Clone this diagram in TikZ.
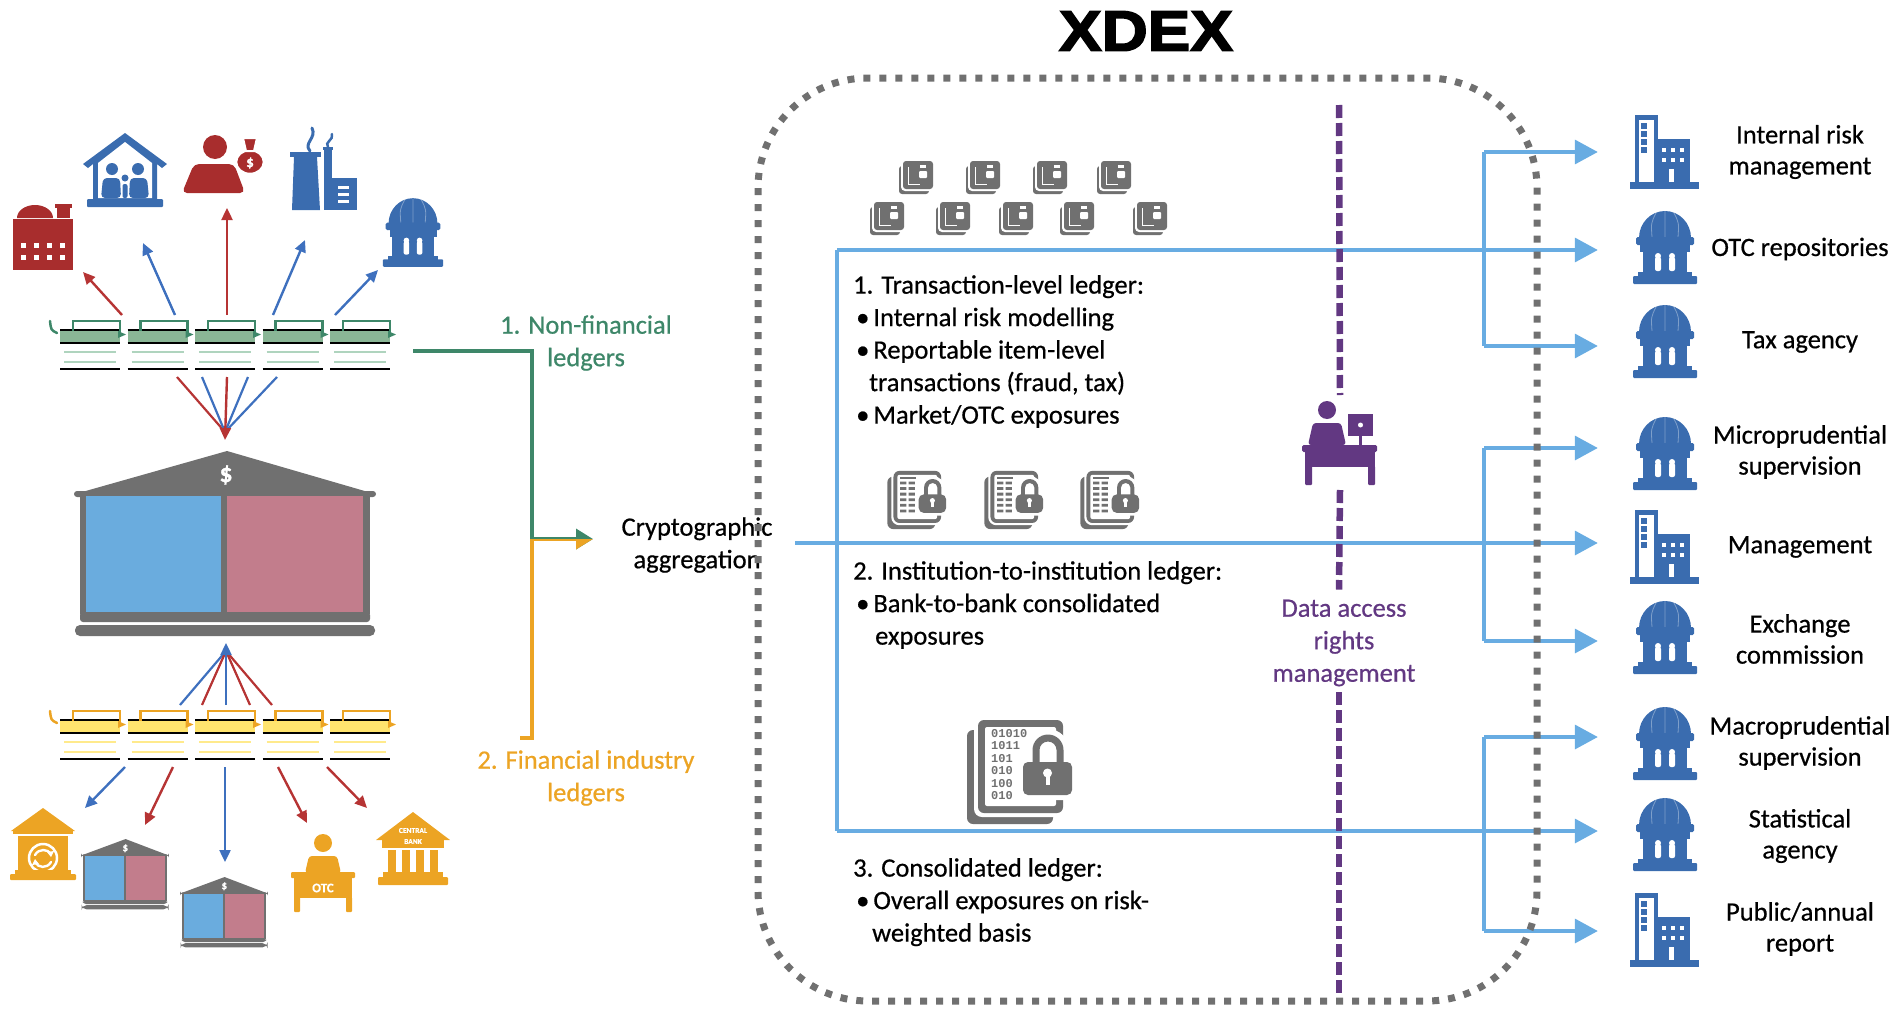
\documentclass[tikz,border=0pt]{standalone}
\usepackage{fontspec}
\setmainfont{Carlito}[FakeBold=0.6]
\newfontfamily\titlefont{Liberation Sans Bold}[FakeStretch=1.12,FakeBold=3]
\newfontfamily\binfont{Liberation Mono}
\usetikzlibrary{arrows.meta}

\definecolor{iconred}{RGB}{168,45,45}
\definecolor{iconblue}{RGB}{58,108,175}
\definecolor{arrowred}{RGB}{182,52,52}
\definecolor{arrowblue}{RGB}{62,112,190}
\definecolor{nfgreen}{RGB}{62,135,105}
\definecolor{nffill}{RGB}{138,182,150}
\definecolor{nfpale}{RGB}{175,212,190}
\definecolor{figold}{RGB}{236,164,36}
\definecolor{fifill}{RGB}{255,228,110}
\definecolor{fipale}{RGB}{255,234,140}
\definecolor{bankgray}{RGB}{112,112,112}
\definecolor{bankblue}{RGB}{106,172,222}
\definecolor{bankpink}{RGB}{194,125,140}
\definecolor{flowblue}{RGB}{104,172,226}
\definecolor{rightsviolet}{RGB}{98,56,130}
\definecolor{boxgray}{RGB}{112,112,112}

\tikzset{
  body/.style={font=\fontsize{26.5}{32.5}\selectfont,inner sep=0pt,align=left,anchor=north west},
  lbl/.style={font=\fontsize{26.5}{32.5}\selectfont,inner sep=0pt,align=center},
  dest/.style={font=\fontsize{26.5}{31}\selectfont,inner sep=0pt,align=center},
  slot/.style={inner sep=0pt,minimum width=#1,minimum height=#1},
  fan/.style={line width=2.4,-{Triangle[length=12pt,width=11pt]}},
  fanline/.style={line width=2.2},
  flow/.style={draw=flowblue,line width=3.5},
  flowarrow/.style={flow,-{Triangle[length=23pt,width=24pt]},shorten >=32pt},
  feed/.style={line width=3.5,-{Triangle[length=17pt,width=20pt]}},
  xdexbox/.style={draw=boxgray,line width=7,dash pattern=on 7 off 9,rounded corners=110},
  rightsline/.style={draw=rightsviolet,line width=6.5,dash pattern=on 13 off 5},
  % ---------- icons ----------
  domebld/.pic={
    \fill[iconblue] (-26,-9) arc[start angle=180,end angle=360,x radius=26,y radius=27] -- cycle;
    \draw[white,opacity=.35,line width=.8] (-9,-34) .. controls (-14,-24) .. (-13,-10)
         (9,-34) .. controls (14,-24) .. (13,-10) (0,-36) -- (0,-10);
    \fill[iconblue,rounded corners=1.5] (-29,-10) rectangle (29,-2);
    \fill[iconblue] (-25,-2) rectangle (25,5);
    \fill[iconblue] (-22,5) rectangle (22,26);
    \fill[white,rounded corners=2] (-10,10) rectangle (-4,24) (4,10) rectangle (10,24);
    \fill[white] (-7,9) circle[radius=3] (7,9) circle[radius=3];
    \fill[iconblue] (-27,25) rectangle (27,30);
    \fill[iconblue,rounded corners=1] (-32,29) rectangle (32,37);
  },
  officebld/.pic={
    \fill[iconblue] (-30,-37) rectangle (-7,31);
    \fill[white] (-26,-32) rectangle (-11,31);
    \foreach \v in {-29,-21,-13,-5} \fill[iconblue] (-24,\v) rectangle (-18,\v+6);
    \fill[iconblue] (-10,-13) rectangle (25,31);
    \foreach \u in {-3,6,15} \foreach \v in {-4,6} \fill[white] (\u,\v) rectangle (\u+4,\v+4);
    \fill[white] (4,17) rectangle (9,30);
    \fill[iconblue] (-35,30) rectangle (34,37);
  },
  bankicon/.pic={
    \fill[bankgray] (-150,-49) -- (2,-92) -- (150,-49) -- cycle;
    \fill[bankgray,rounded corners=3] (-151,-52) rectangle (151,-46);
    \fill[bankgray] (-145,-47) rectangle (145,71);
    \fill[bankblue] (-139,-47) rectangle (-4,69);
    \fill[bankpink] (2,-47) rectangle (138,69);
    \fill[bankgray,rounded corners=3] (-145,69) rectangle (145,79);
    \fill[bankgray,rounded corners=5] (-150,82) rectangle (150,93);
    \node[text=white,font=#1,inner sep=0] at (1,-68) {\$};
  },
  coinbank/.pic={
    \fill[figold] (-32,-13) -- (0,-36) -- (32,-13) -- cycle;
    \fill[figold] (-30,-14) rectangle (30,-10);
    \fill[figold] (-25,-8) rectangle (25,27);
    \draw[white,line width=2.5] (0,14) circle[radius=14];
    \draw[white,line width=2.4,line cap=round]
      (-8,11) .. controls (-4,4) and (5,5) .. (8,10)
      (8,18) .. controls (4,25) and (-5,24) .. (-8,18);
    \fill[white] (8,13) -- (4,8) -- (11,7) -- cycle (-8,15) -- (-4,20) -- (-11,21) -- cycle;
    \fill[figold] (-28,26) rectangle (28,30);
    \fill[figold,rounded corners=1] (-33,30) rectangle (33,36);
  },
  otcdesk/.pic={
    \fill[figold] (0,-30) circle[radius=9];
    \fill[figold,rounded corners=3] (-18,0) -- (-14,-17) -- (14,-17) -- (18,0) -- cycle;
    \fill[figold,rounded corners=1] (-32,-1) rectangle (32,5);
    \fill[figold] (-29,5) rectangle (29,25);
    \node[text=white,font=\bfseries\fontsize{13}{13}\selectfont,inner sep=0] at (0,15) {OTC};
    \fill[figold,rounded corners=1] (-29,24) rectangle (-23,39) (23,24) rectangle (29,39);
  },
  centralbank/.pic={
    \fill[figold] (-37,-8) -- (0,-36) -- (37,-8) -- cycle;
    \fill[figold] (-31,-8) rectangle (31,0);
    \node[text=white,font=\bfseries\fontsize{7.5}{11}\selectfont,inner sep=0,align=center] at (0,-12) {CENTRAL\\BANK};
    \foreach \u in {-21,-7,7,21} \fill[figold] (\u-4,2) rectangle (\u+4,25);
    \fill[figold] (-30,24) rectangle (30,29);
    \fill[figold,rounded corners=1] (-35,29) rectangle (35,37);
  },
  factory/.pic={
    \fill[iconred] (-26,-19) arc[start angle=180,end angle=360,x radius=18,y radius=13] -- cycle;
    \fill[iconred] (14,-31) rectangle (27,-19);
    \fill[iconred] (12,-33) rectangle (29,-29);
    \fill[iconred] (-30,-18) rectangle (30,33);
    \foreach \u in {-20,-7,6,19} \foreach \v in {8,20}
      \fill[white] (\u-2.5,\v-2.5) rectangle (\u+2.5,\v+2.5);
  },
  famhouse/.pic={
    \fill[iconblue] (-42,-6) -- (0,-37) -- (42,-6) -- (37,-2) -- (32,-6) -- (32,30)
         -- (-32,30) -- (-32,-6) -- (-37,-2) -- cycle;
    \fill[white] (-27,-7) -- (0,-28) -- (27,-7) -- (27,28) -- (-27,28) -- cycle;
    \fill[iconblue] (-13,-1) circle[radius=6] (13,-1) circle[radius=6] (0,8) circle[radius=3.5];
    \fill[iconblue,rounded corners=4] (-24,28) -- (-22,8) -- (-5,8) -- (-4,28) -- cycle;
    \fill[iconblue,rounded corners=4] (4,28) -- (5,8) -- (22,8) -- (24,28) -- cycle;
    \fill[iconblue,rounded corners=2] (-2.5,28) -- (-2.5,14) -- (2.5,14) -- (2.5,28) -- cycle;
    \fill[iconblue,rounded corners=1] (-38,29) rectangle (38,37);
  },
  moneyperson/.pic={
    \fill[iconred] (-8,-16) circle[radius=12];
    \fill[iconred,rounded corners=5] (-41,30) -- (-29,1) -- (11,1) -- (22,30) -- cycle;
    \filldraw[iconred,draw=white,line width=2.5] (27,-1) ellipse[x radius=14,y radius=12];
    \filldraw[iconred,draw=white,line width=2] (20,-25) -- (34,-25) -- (31,-12) -- (23,-12) -- cycle;
    \node[text=white,font=\bfseries\fontsize{15}{15}\selectfont,inner sep=0] at (27,0) {\$};
  },
  industry/.pic={
    \draw[iconblue,line width=3,line cap=round] (-13,-17) .. controls (-20,-25) and (-6,-30) .. (-11,-40);
    \draw[iconblue,line width=2.5,line cap=round] (5,-21) .. controls (1,-26) and (11,-28) .. (9,-34);
    \fill[iconblue] (-33,-16) rectangle (-2,-11);
    \fill[iconblue] (-29,-11) -- (-6,-11) -- (-3,42) -- (-31,42) -- cycle;
    \fill[iconblue] (1,-19) rectangle (9,12);
    \fill[iconblue] (0,-21) rectangle (10,-18);
    \fill[iconblue] (1,10) rectangle (34,42);
    \foreach \v in {18,25,32} \fill[white] (15,\v) rectangle (26,\v+3);
  },
  deskuser/.pic={
    \fill[rightsviolet] (-13,-30) circle[radius=9];
    \fill[rightsviolet,rounded corners=3] (-32,5) -- (-27,-17) -- (1,-17) -- (6,5) -- cycle;
    \fill[rightsviolet] (8,-26) rectangle (33,-4);
    \fill[white] (20.5,-15) circle[radius=2.5];
    \fill[rightsviolet] (19,-4) rectangle (22,5);
    \fill[rightsviolet,rounded corners=1.5] (-38,5) rectangle (37,12);
    \fill[rightsviolet] (-35,12) rectangle (35,27);
    \fill[rightsviolet,rounded corners=1] (-35,26) rectangle (-28,45) (28,26) rectangle (35,45);
  },
  docsmall/.pic={
    \fill[bankgray,rounded corners=3] (-17,-11) rectangle (13,17);
    \fill[white,rounded corners=4] (-15,-18) rectangle (19,14);
    \fill[bankgray,rounded corners=3] (-13,-16) rectangle (17,12);
    \draw[white,line width=0.9] (-8,-10) -- (-8,7) -- (4,7);
    \fill[white] (4,-12) rectangle (10,-9);
    \fill[white,rounded corners=1] (3,-6) rectangle (11,1);
  },
  doclock/.pic={
    \fill[bankgray,rounded corners=6] (-53,-42) rectangle (33,52);
    \fill[white,rounded corners=8] (-46,-56) rectangle (47,45);
    \fill[bankgray,rounded corners=6] (-42,-52) rectangle (43,41);
    \fill[white,rounded corners=2] (-35,-45) rectangle (36,34);
    \fill[white,rounded corners=7] (-2,-15) rectangle (57,28);
    \fill[white] (7,-8) -- (7,-22) arc[start angle=180,end angle=360,radius=21] -- (49,-8) -- cycle;
    \fill[bankgray] (12.5,-8) -- (12.5,-22) arc[start angle=180,end angle=360,radius=15.5]
       -- (43.5,-8) -- (36.5,-8) -- (36.5,-22) arc[start angle=360,end angle=180,radius=8.5]
       -- (19.5,-8) -- cycle;
    \fill[bankgray,rounded corners=5] (3,-10) rectangle (52,23);
    \fill[white] (27.5,1) circle[radius=4.5];
    \fill[white] (25.5,1) rectangle (29.5,13);
  },
  cellmarks/.pic={
    \fill[bankgray] (-30,-41) rectangle (-2,-38);
    \foreach \v in {-33,-23,-13,-3,7,17}
      \fill[bankgray] (-30,\v) rectangle (-19,\v+5) (-15,\v) rectangle (-4,\v+5);
  },
  ledger/.pic={
    \draw[ldgline,line width=2.5,line cap=round] (-10,1) .. controls (-9,10) .. (-3,13);
    \foreach \k in {0,...,4}{
      \begin{scope}[shift={(\k*67.5,0)}]
        \fill[ldgfill] (0,10) rectangle (60,23);
        \draw[black,line width=2.2] (0,10) -- (60,10) (0,23) -- (60,23) (0,49) -- (60,49);
        \draw[ldgpale,line width=2] (4,32) -- (56,32) (4,42) -- (56,42);
        \draw[ldgline,line width=2.5] (13,11) -- (13,1) -- (60,1) -- (60,13);
        \fill[ldgline] (58,11) -- (66,14.5) -- (58,18) -- cycle;
      \end{scope}
    }
  },
}

\begin{document}
\begin{tikzpicture}[x=1pt,y=-1pt]
\useasboundingbox (0,0) rectangle (1895,1009);

% ---------------- title ----------------
\node[inner sep=0,font=\titlefont\fontsize{57}{57}\selectfont] (title) at (1146,31) {XDEX};

% ---------------- left side: ledgers and institutions ----------------
\begin{scope}
  \colorlet{ldgline}{nfgreen}\colorlet{ldgfill}{nffill}\colorlet{ldgpale}{nfpale}
  \pic (nfledger) at (60,320) {ledger};
\end{scope}
\begin{scope}
  \colorlet{ldgline}{figold}\colorlet{ldgfill}{fifill}\colorlet{ldgpale}{fipale}
  \pic (filedger) at (60,710) {ledger};
\end{scope}

% icon slots
\node[slot=64] (factory) at (43,237) {};
\node[slot=74] (house) at (125,170) {};
\node[slot=70] (household) at (223,163) {};
\node[slot=70] (industry) at (323,168) {};
\node[slot=66] (govt) at (413,232) {};
\node[slot=300] (bank) at (225,543) {};
\node[slot=68] (coinbank) at (43,844) {};
\node[slot=80] (peerbank1) at (125,874) {};
\node[slot=80] (peerbank2) at (224,912) {};
\node[slot=68] (otcdesk) at (323,873) {};
\node[slot=70] (cbank) at (413,848) {};

\pic at (factory) {factory};
\pic at (house) {famhouse};
\pic at (household) {moneyperson};
\pic at (industry) {industry};
\pic[scale=0.94] at (govt) {domebld};
\pic at (bank) {bankicon={\bfseries\fontsize{26}{26}\selectfont}};
\pic at (coinbank) {coinbank};
\pic[xscale=0.29,yscale=0.38] at (peerbank1) {bankicon={\bfseries\fontsize{11}{11}\selectfont}};
\pic[xscale=0.29,yscale=0.38] at (peerbank2) {bankicon={\bfseries\fontsize{11}{11}\selectfont}};
\pic at (otcdesk) {otcdesk};
\pic at (cbank) {centralbank};

% fan-out from the non-financial ledger
\coordinate (nfo1) at (122,315); \coordinate (tfactory) at (83,272);
\coordinate (nfo2) at (175,315); \coordinate (thouse) at (143,243);
\coordinate (nfo3) at (227,315); \coordinate (thousehold) at (227,208);
\coordinate (nfo4) at (273,315); \coordinate (tindustry) at (305,240);
\coordinate (nfo5) at (335,315); \coordinate (tgovt) at (378,270);
\foreach \a/\b/\c in {nfo1/tfactory/arrowred,nfo2/thouse/arrowblue,nfo3/thousehold/arrowred,
                      nfo4/tindustry/arrowblue,nfo5/tgovt/arrowblue}
  \draw[fan,\c] (\a) -- (\b);

% non-financial ledger into the bank
\coordinate (bankin) at (225,440);
\coordinate (nfd1) at (177,377); \coordinate (nfd2) at (202,377); \coordinate (nfd3) at (227,377);
\coordinate (nfd4) at (248,377); \coordinate (nfd5) at (277,377);
\foreach \a/\c in {nfd1/arrowred,nfd2/arrowblue,nfd4/arrowblue,nfd5/arrowblue}
  \draw[fanline,\c] (\a) -- ([yshift=8pt]bankin);
\draw[fan,arrowred] (nfd3) -- (bankin);

% financial-industry ledger into the bank
\coordinate (bankout) at (226,643);
\coordinate (fiu1) at (180,705); \coordinate (fiu2) at (202,705); \coordinate (fiu3) at (226,705);
\coordinate (fiu4) at (250,705); \coordinate (fiu5) at (272,705);
\foreach \a/\c in {fiu1/arrowblue,fiu2/arrowred,fiu4/arrowred,fiu5/arrowred}
  \draw[fanline,\c] (\a) -- ([yshift=-8pt]bankout);
\draw[fan,arrowblue] (fiu3) -- (bankout);

% fan-out from the financial-industry ledger
\coordinate (fio1) at (125,767); \coordinate (tcoinbank) at (85,808);
\coordinate (fio2) at (173,767); \coordinate (tpeer1) at (145,825);
\coordinate (fio3) at (225,767); \coordinate (tpeer2) at (225,862);
\coordinate (fio4) at (278,767); \coordinate (totc) at (307,823);
\coordinate (fio5) at (327,767); \coordinate (tcbank) at (367,808);
\foreach \a/\b/\c in {fio1/tcoinbank/arrowblue,fio2/tpeer1/arrowred,fio3/tpeer2/arrowblue,
                      fio4/totc/arrowred,fio5/tcbank/arrowred}
  \draw[fan,\c] (\a) -- (\b);

% ledgers feeding the aggregation
\node[lbl,text=nfgreen] (nflbl) at (586,343) {1. Non-financial\\ledgers};
\node[lbl,text=figold] (filbl) at (586,778) {2. Financial industry\\ledgers};
\node[lbl] (crypto) at (697,545) {Cryptographic\\aggregation};
\coordinate (nfout) at (413,351);
\coordinate (fiout) at (413,738);
\coordinate (join) at (532,539);
\coordinate (aggin) at (593,539);
\draw[feed,nfgreen] (nfout) -| (join) -- (aggin);
\begin{scope}
  \clip (520,539) rectangle (620,760);
  \draw[feed,figold] (fiout) -| (join) -- (aggin);
\end{scope}

% ---------------- XDEX ledgers and reporting ----------------
% recipients
\node[slot=70] (irm)   at (1665,152) {};
\node[slot=70] (otcr)  at (1665,247) {};
\node[slot=70] (tax)   at (1665,341) {};
\node[slot=70] (micro) at (1665,453) {};
\node[slot=70] (mgmt)  at (1665,547) {};
\node[slot=70] (exch)  at (1665,637) {};
\node[slot=70] (macro) at (1665,743) {};
\node[slot=70] (stat)  at (1665,834) {};
\node[slot=70] (pub)   at (1665,930) {};
\pic at (irm) {officebld};
\pic at (otcr) {domebld};
\pic at (tax) {domebld};
\pic at (micro) {domebld};
\pic at (mgmt) {officebld};
\pic at (exch) {domebld};
\pic at (macro) {domebld};
\pic at (stat) {domebld};
\pic at (pub) {officebld};

\node[dest] (irmlbl)   at (1800,152) {Internal risk\\management};
\node[dest] (otcrlbl)  at (1800,249) {OTC repositories};
\node[dest] (taxlbl)   at (1800,342) {Tax agency};
\node[dest] (microlbl) at (1800,452) {Microprudential\\supervision};
\node[dest] (mgmtlbl)  at (1800,547) {Management};
\node[dest] (exchlbl)  at (1800,639) {Exchange\\commission};
\node[dest] (macrolbl) at (1800,743) {Macroprudential\\supervision};
\node[dest] (statlbl)  at (1800,836) {Statistical\\agency};
\node[dest] (publbl)   at (1800,929) {Public/annual\\report};

% distribution lines
\coordinate (tl) at (837,250);
\coordinate (cl) at (837,831);
\coordinate (il) at (795,543);
\coordinate (hubAtop) at (1484,152); \coordinate (hubAbot) at (1484,346);
\coordinate (hubBtop) at (1484,448); \coordinate (hubBbot) at (1484,641);
\coordinate (hubCtop) at (1484,737); \coordinate (hubCbot) at (1484,931);
\draw[flow] (tl) -- (cl);
\draw[flow] (hubAtop) -- (hubAbot);
\draw[flow] (hubBtop) -- (hubBbot);
\draw[flow] (hubCtop) -- (hubCbot);
\draw[flowarrow] (tl) -- (tl -| otcr.west);
\draw[flowarrow] (il) -- (il -| mgmt.west);
\draw[flowarrow] (cl) -- (cl -| stat.west);
\draw[flowarrow] (hubAtop) -- (hubAtop -| irm.west);
\draw[flowarrow] (hubAbot) -- (hubAbot -| tax.west);
\draw[flowarrow] (hubBtop) -- (hubBtop -| micro.west);
\draw[flowarrow] (hubBbot) -- (hubBbot -| exch.west);
\draw[flowarrow] (hubCtop) -- (hubCtop -| macro.west);
\draw[flowarrow] (hubCbot) -- (hubCbot -| pub.west);

% data access rights
\node[slot=80] (desk) at (1340,440) {};
\pic at (desk) {deskuser};
\node[lbl,text=rightsviolet] (rights) at (1344,643) {Data access\\rights\\management};
\coordinate (rtop) at (1339,105);
\coordinate (rbot) at (1339,1003);
\draw[rightsline] (rtop) -- ([yshift=45pt]desk.center);
\draw[rightsline] ([yshift=-50pt]desk.center) -- ([yshift=10pt]rights.north -| rtop);
\draw[rightsline] ([yshift=-6pt]rights.south -| rtop) -- (rbot);

% ledger icons
\foreach \x/\nm in {916/d1,983/d2,1050/d3,1114/d4}
  \pic (\nm) at (\x,177) {docsmall};
\foreach \x/\nm in {887/d5,953/d6,1016/d7,1077/d8,1150/d9}
  \pic (\nm) at (\x,218) {docsmall};
\foreach \x/\nm in {917/m1,1014/m2,1110/m3}{
  \pic[scale=0.56] (\nm) at (\x,500) {doclock};
  \pic[scale=0.56] at (\x,500) {cellmarks};
}
\node[slot=104] (bigdoc) at (1020,772) {};
\pic at (bigdoc) {doclock};
\node[inner sep=0,anchor=north west,align=left,text=bankgray,
      font=\binfont\bfseries\fontsize{12}{12.5}\selectfont] (bits) at (991,729)
      {01010\\1011\\101\\010\\100\\010};

\node[body] (tx) at (853,275) {1. Transaction-level ledger:\\
  \hspace*{3pt}\textbullet\hspace{4pt}Internal risk modelling\\
  \hspace*{3pt}\textbullet\hspace{4pt}Reportable item-level\\
  \hspace*{16pt}transactions (fraud, tax)\\
  \hspace*{3pt}\textbullet\hspace{4pt}Market/OTC exposures};
\node[body] (inst) at (853,561) {2. Institution-to-institution ledger:\\
  \hspace*{3pt}\textbullet\hspace{4pt}Bank-to-bank consolidated\\
  \hspace*{22pt}exposures};
\node[body] (cons) at (853,858) {3. Consolidated ledger:\\
  \hspace*{3pt}\textbullet\hspace{4pt}Overall exposures on risk-\\
  \hspace*{19pt}weighted basis};

% XDEX boundary
\draw[xdexbox] (758,78) rectangle (1537,1001);
\end{tikzpicture}
\end{document}
